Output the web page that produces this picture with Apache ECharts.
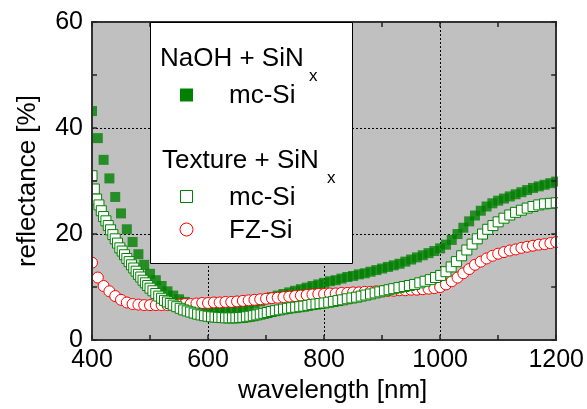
<!DOCTYPE html>
<html>
<head>
<meta charset="utf-8">
<script src="https://cdn.jsdelivr.net/npm/echarts@6/dist/echarts.min.js"></script>
<style>
  html, body { margin: 0; padding: 0; background: #fff; }
  #chart { width: 587px; height: 409px; }
</style>
</head>
<body>
<div id="chart"></div>
<script>
// NaOH + SiNx, mc-Si (filled squares)
const naohWl = [400, 410, 420, 430, 440, 450, 460, 470, 480, 490,
  500, 510, 520, 530, 540, 550, 560, 570, 580, 590,
  600, 610, 620, 630, 640, 650, 660, 670, 680, 690,
  700, 710, 720, 730, 740, 750, 760, 770, 780, 790,
  800, 810, 820, 830, 840, 850, 860, 870, 880, 890,
  900, 910, 920, 930, 940, 950, 960, 970, 980, 990,
  1000, 1010, 1020, 1030, 1040, 1050, 1060, 1070, 1080, 1090,
  1100, 1110, 1120, 1130, 1140, 1150, 1160, 1170, 1180, 1190, 1200];
const naohMc = [43.2, 38.1, 34.0, 30.5, 27.0, 23.9, 20.9, 18.5, 16.2, 14.2,
  12.5, 11.3, 10.2, 9.2, 8.4, 7.7, 7.2, 6.8, 6.5, 6.3,
  6.2, 6.0, 5.9, 5.9, 5.9, 6.0, 6.2, 6.5, 6.9, 7.3,
  7.7, 8.1, 8.4, 8.7, 9.0, 9.3, 9.6, 9.9, 10.2, 10.5,
  10.8, 11.1, 11.3, 11.6, 11.9, 12.1, 12.4, 12.6, 12.9, 13.2,
  13.5, 13.8, 14.1, 14.4, 14.8, 15.2, 15.6, 16.0, 16.4, 16.8,
  17.3, 18.0, 18.9, 20.0, 21.2, 22.4, 23.5, 24.4, 25.2, 25.8,
  26.3, 26.7, 27.1, 27.5, 27.9, 28.3, 28.7, 29.0, 29.3, 29.6, 29.9];

// Texture + SiNx, mc-Si (open squares)
const texMcWl = [400, 404, 408, 412, 416, 420, 424, 428, 432, 436,
  440, 444, 448, 452, 456, 460, 464, 468, 472, 476,
  480, 484, 488, 492, 496, 500, 505, 510, 515, 520,
  525, 530, 535, 540, 546, 552, 558, 564, 570, 576,
  582, 588, 594, 600, 606, 612, 618, 624, 630, 636,
  642, 648, 654, 660, 666, 672, 678, 684, 690, 696,
  702, 709, 716, 723, 730, 737, 744, 751, 758, 765,
  772, 779, 786, 793, 800, 808, 816, 824, 832, 840,
  848, 856, 864, 872, 880, 888, 896, 904, 912, 920,
  929, 938, 947, 956, 965, 974, 983, 992, 1001, 1010,
  1019, 1028, 1037, 1046, 1055, 1064, 1073, 1082, 1091, 1100,
  1110, 1120, 1130, 1140, 1150, 1160, 1170, 1180, 1190, 1200];
const texMc = [31.0, 28.5, 26.6, 25.5, 24.4, 23.3, 22.5, 21.6, 20.8, 19.9,
  19.1, 18.3, 17.4, 16.8, 16.1, 15.4, 14.8, 14.2, 13.6, 13.0,
  12.4, 11.9, 11.3, 10.8, 10.3, 9.8, 9.3, 8.8, 8.3, 7.9,
  7.5, 7.2, 6.9, 6.6, 6.3, 6.0, 5.7, 5.5, 5.3, 5.1,
  4.9, 4.75, 4.6, 4.5, 4.4, 4.35, 4.3, 4.25, 4.2, 4.2,
  4.2, 4.2, 4.25, 4.3, 4.4, 4.5, 4.6, 4.75, 4.9, 5.05,
  5.2, 5.4, 5.55, 5.7, 5.85, 6.0, 6.1, 6.2, 6.3, 6.4,
  6.55, 6.7, 6.8, 6.9, 7.0, 7.15, 7.3, 7.45, 7.6, 7.8,
  7.95, 8.1, 8.3, 8.5, 8.7, 8.9, 9.1, 9.3, 9.5, 9.7,
  9.9, 10.1, 10.3, 10.5, 10.8, 11.1, 11.4, 11.8, 12.2, 12.9,
  13.8, 14.8, 15.9, 17.0, 18.1, 19.1, 20.0, 20.9, 21.6, 22.3,
  23.0, 23.6, 24.1, 24.5, 24.9, 25.2, 25.5, 25.7, 25.8, 25.9];

// Texture + SiNx, FZ-Si (open circles)
const texFzWl = naohWl;
const texFz = [14.6, 11.8, 10.2, 9.2, 8.3, 7.6, 7.1, 6.8, 6.7, 6.6,
  6.6, 6.6, 6.6, 6.6, 6.7, 6.7, 6.8, 6.8, 6.9, 7.0,
  7.0, 7.1, 7.1, 7.2, 7.2, 7.3, 7.4, 7.5, 7.6, 7.7,
  7.8, 7.9, 8.0, 8.1, 8.2, 8.3, 8.4, 8.5, 8.6, 8.7,
  8.7, 8.8, 8.8, 8.9, 8.9, 9.0, 9.0, 9.1, 9.1, 9.2,
  9.2, 9.3, 9.3, 9.4, 9.4, 9.5, 9.5, 9.6, 9.7, 9.8,
  10.0, 10.5, 11.1, 11.8, 12.6, 13.4, 14.2, 14.8, 15.4, 15.9,
  16.3, 16.6, 16.9, 17.1, 17.4, 17.6, 17.8, 18.0, 18.1, 18.3, 18.5];

const xTicks = ['400', '600', '800', '1000', '1200'];
const yTicks = ['0', '20', '40', '60'];

const FONT = '"Liberation Sans", Arial, sans-serif';
const GREEN = '#008000';
const RED = '#ff0000';

const zip = (xs, ys) => xs.map((x, i) => [x, ys[i]]);

// 坐标轴外框（画在散点之上）
const frameAxis = (pos, isX, withLabel) => ({
  type: 'value',
  position: pos,
  gridIndex: 0,
  min: isX ? 400 : 0,
  max: isX ? 1200 : 60,
  interval: isX ? 200 : 20,
  z: 10,
  axisLine: { show: true, onZero: false, lineStyle: { color: '#333', width: 2 } },
  axisTick: { show: true, inside: true, length: 5, lineStyle: { color: '#222', width: 1.5 } },
  minorTick: { show: true, splitNumber: 2, length: 5, lineStyle: { color: '#222', width: 1.5 } },
  splitLine: { show: false },
  axisLabel: {
    show: withLabel,
    color: '#000',
    fontSize: 25,
    fontFamily: FONT,
    margin: isX ? 8 : 9,
    formatter: v => (isX ? xTicks : yTicks)[Math.round((v - (isX ? 400 : 0)) / (isX ? 200 : 20))]
  }
});

const chart = echarts.init(document.getElementById('chart'), null, { renderer: 'canvas' });

chart.setOption({
  animation: false,
  backgroundColor: '#fff',
  grid: {
    left: 92, right: 30, top: 22, bottom: 66,
    show: true, backgroundColor: '#c0c0c0', borderWidth: 0
  },
  xAxis: [
    {
      type: 'value', position: 'bottom', min: 400, max: 1200, interval: 200, z: 0,
      axisLine: { show: false }, axisTick: { show: false }, axisLabel: { show: false },
      splitLine: { show: true, lineStyle: { color: '#000', width: 1, type: [2, 2] } }
    },
    Object.assign(frameAxis('bottom', true, true), {
      name: 'wavelength [nm]',
      nameLocation: 'middle',
      nameGap: 35,
      nameTextStyle: { fontSize: 26, fontFamily: FONT, color: '#000', padding: [0, 0, 0, 17] }
    }),
    frameAxis('top', true, false)
  ],
  yAxis: [
    {
      type: 'value', position: 'left', min: 0, max: 60, interval: 20, z: 0,
      axisLine: { show: false }, axisTick: { show: false }, axisLabel: { show: false },
      splitLine: { show: true, lineStyle: { color: '#000', width: 1, type: [2, 2] } }
    },
    Object.assign(frameAxis('left', false, true), {
      name: 'reflectance [%]',
      nameLocation: 'middle',
      nameGap: 51,
      nameRotate: 90,
      nameTextStyle: { fontSize: 26, fontFamily: FONT, color: '#000' }
    }),
    frameAxis('right', false, false)
  ],
  series: [
    {
      name: 'NaOH mc-Si', type: 'scatter', xAxisIndex: 0, yAxisIndex: 0,
      symbol: 'rect', symbolSize: 10,
      itemStyle: { color: GREEN },
      data: zip(naohWl, naohMc)
    },
    {
      name: 'Texture FZ-Si', type: 'scatter', xAxisIndex: 0, yAxisIndex: 0,
      symbol: 'circle', symbolSize: 11,
      itemStyle: { color: '#fff', borderColor: RED, borderWidth: 1, opacity: 1 },
      data: zip(texFzWl, texFz)
    },
    {
      name: 'Texture mc-Si', type: 'scatter', xAxisIndex: 0, yAxisIndex: 0,
      symbol: 'rect', symbolSize: 10,
      itemStyle: { color: '#fff', borderColor: GREEN, borderWidth: 1, opacity: 1 },
      data: zip(texMcWl, texMc)
    }
  ],
  graphic: [
    // 裁掉超出绘图区的符号
    { type: 'rect', z: 5, silent: true, shape: { x: 80, y: 10, width: 11, height: 340 }, style: { fill: '#fff' } },
    { type: 'rect', z: 5, silent: true, shape: { x: 558, y: 10, width: 20, height: 340 }, style: { fill: '#fff' } },
    // 图例框
    { type: 'rect', z: 20, shape: { x: 150.5, y: 22.5, width: 202, height: 241 }, style: { fill: '#fff', stroke: '#000', lineWidth: 1 } },
    { type: 'text', z: 21, x: 160, y: 59, style: { text: 'NaOH + SiN', font: '26px ' + FONT, fill: '#000', verticalAlign: 'middle' } },
    { type: 'text', z: 21, x: 309, y: 76, style: { text: 'x', font: '17px ' + FONT, fill: '#000', verticalAlign: 'middle' } },
    { type: 'rect', z: 21, shape: { x: 180, y: 88.5, width: 13, height: 13 }, style: { fill: GREEN } },
    { type: 'text', z: 21, x: 229, y: 96, style: { text: 'mc-Si', font: '26px ' + FONT, fill: '#000', verticalAlign: 'middle' } },
    { type: 'text', z: 21, x: 162, y: 161, style: { text: 'Texture + SiN', font: '26px ' + FONT, fill: '#000', verticalAlign: 'middle' } },
    { type: 'text', z: 21, x: 327, y: 178, style: { text: 'x', font: '17px ' + FONT, fill: '#000', verticalAlign: 'middle' } },
    { type: 'rect', z: 21, shape: { x: 180.5, y: 190.5, width: 12, height: 12 }, style: { fill: '#fff', stroke: GREEN, lineWidth: 1 } },
    { type: 'text', z: 21, x: 229, y: 198, style: { text: 'mc-Si', font: '26px ' + FONT, fill: '#000', verticalAlign: 'middle' } },
    { type: 'circle', z: 21, shape: { cx: 186.5, cy: 229.5, r: 6.5 }, style: { fill: '#fff', stroke: RED, lineWidth: 1 } },
    { type: 'text', z: 21, x: 229, y: 231, style: { text: 'FZ-Si', font: '26px ' + FONT, fill: '#000', verticalAlign: 'middle' } }
  ]
});
</script>
</body>
</html>
